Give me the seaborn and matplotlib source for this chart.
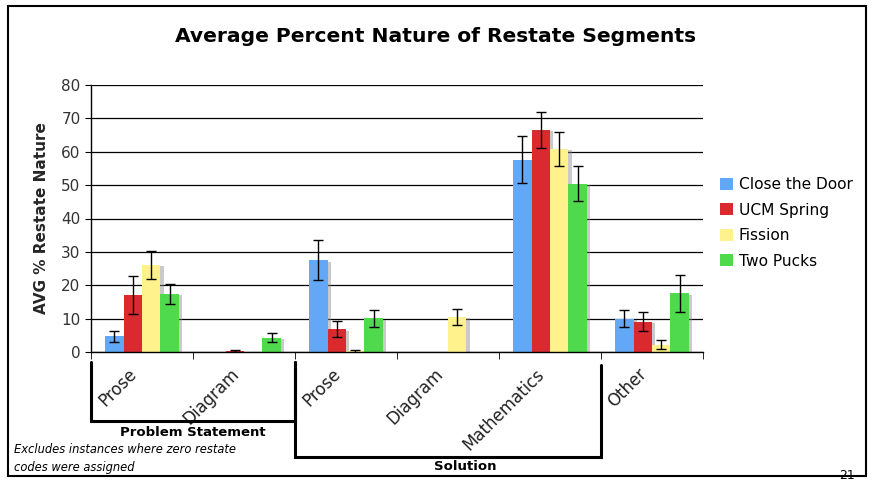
import pandas as pd
import matplotlib.pyplot as plt
import matplotlib.patheffects as pe
import matplotlib.transforms as mtransforms
from matplotlib.patches import Rectangle
import seaborn as sns

# Chart values
categories = ['Prose', 'Diagram', 'Prose ', 'Diagram ', 'Mathematics', 'Other']
tick_labels = ['Prose', 'Diagram', 'Prose', 'Diagram', 'Mathematics', 'Other']
series = ['Close the Door', 'UCM Spring', 'Fission', 'Two Pucks']

close_door = [4.7, 0.0, 27.5, 0.0, 57.6, 10.0]
ucm_spring = [17.2, 0.2, 6.8, 0.0, 66.5, 9.1]
fission = [26.1, 0.0, 0.2, 10.5, 60.8, 2.2]
two_pucks = [17.5, 4.3, 10.1, 0.0, 50.4, 17.6]

close_door_err = [1.6, 0.0, 6.0, 0.0, 7.0, 2.6]
ucm_spring_err = [5.7, 0.3, 2.4, 0.0, 5.4, 2.9]
fission_err = [4.3, 0.0, 0.4, 2.4, 5.0, 1.3]
two_pucks_err = [3.0, 1.3, 2.6, 0.0, 5.3, 5.5]

colors = ['#62a8f7', '#da2a2e', '#fff28c', '#4fd94c']

values = [close_door, ucm_spring, fission, two_pucks]
errors = [close_door_err, ucm_spring_err, fission_err, two_pucks_err]

df = pd.DataFrame({
    'segment': categories * len(series),
    'set': [s for s in series for _ in categories],
    'value': [v for vals in values for v in vals],
})

sns.set_style('white')
plt.rcParams['font.family'] = ['DejaVu Sans']
plt.rcParams['text.color'] = 'black'

fig = plt.figure(figsize=(8.72, 4.84), dpi=100)
ax = fig.add_axes([91 / 872, 1 - 352 / 484, 612 / 872, 267 / 484])

sns.barplot(data=df, x='segment', y='value', hue='set', order=categories,
            hue_order=series, palette=colors, width=0.72, errorbar=None,
            saturation=1, linewidth=0, ax=ax, legend=True)

# drop shadows and error bars
shadow = [pe.SimplePatchShadow(offset=(2.5, -1), shadow_rgbFace='#8a8a8a', alpha=0.45),
          pe.Normal()]
for cont, errs in zip(ax.containers, errors):
    for bar, e in zip(cont, errs):
        bar.set_path_effects(shadow)
        if e > 0:
            ax.errorbar(bar.get_x() + bar.get_width() / 2, bar.get_height(), yerr=e,
                        fmt='none', ecolor='black', elinewidth=1, capsize=3.6,
                        capthick=1, zorder=5)

ax.set_ylim(0, 80)
ax.set_xlim(-0.5, len(categories) - 0.5)
ax.set_yticks(range(0, 81, 10))
ax.yaxis.grid(True, color='black', lw=0.9)
ax.set_axisbelow(True)
for side in ['top', 'right']:
    ax.spines[side].set_visible(False)
for side in ['left', 'bottom']:
    ax.spines[side].set_color('black')
    ax.spines[side].set_linewidth(1)

ax.tick_params(axis='y', length=4, color='black', labelsize=11, labelcolor='#333333', left=True)
ax.set_xticks(range(len(categories)))
ax.set_xticklabels(tick_labels, rotation=45, ha='right', va='center',
                   rotation_mode='anchor', fontsize=12, color='#222222')
ax.tick_params(axis='x', length=0, pad=14)
shift = mtransforms.ScaledTranslation(-8 / 100, 0, fig.dpi_scale_trans)
for lbl in ax.get_xticklabels():
    lbl.set_transform(lbl.get_transform() + shift)
ax.set_xticks([i - 0.5 for i in range(len(categories) + 1)], minor=True)
ax.tick_params(axis='x', which='minor', length=5, color='black', bottom=True)

ax.set_xlabel('')
ax.set_ylabel('AVG % Restate Nature', fontsize=11, fontweight='bold', labelpad=9)
fig.text(0.5, 1 - 37 / 484, 'Average Percent Nature of Restate Segments',
         ha='center', va='center', fontsize=14.6, fontweight='bold')

# group brackets below the axis
tr = ax.get_xaxis_transform()
ax.plot([-0.5, -0.5, 1.5, 1.5], [-0.037, -0.258, -0.258, -0.037], color='black',
        lw=2.2, transform=tr, clip_on=False, solid_joinstyle='miter')
ax.plot([1.5, 1.5, 4.5, 4.5], [-0.037, -0.393, -0.393, -0.05], color='black',
        lw=2.2, transform=tr, clip_on=False, solid_joinstyle='miter')
ax.text(0.5, -0.303, 'Problem Statement', transform=tr, ha='center', va='center',
        fontsize=9.5, fontweight='bold')
ax.text(3.17, -0.427, 'Solution', transform=tr, ha='center', va='center',
        fontsize=9.5, fontweight='bold')

fig.text(14 / 872, 1 - 443 / 484, 'Excludes instances where zero restate\ncodes were assigned',
         ha='left', va='top', fontsize=8.3, style='italic', linespacing=1.45)

leg = ax.legend(loc='upper left', bbox_to_anchor=(714 / 872, 1 - 171 / 484),
                bbox_transform=fig.transFigure, frameon=False, fontsize=11.1,
                handlelength=0.8, handleheight=0.8, handletextpad=0.4,
                labelspacing=0.68, borderaxespad=0)

fig.add_artist(Rectangle((8 / 872, 1 - 476 / 484), 858 / 872, 470 / 484,
                         transform=fig.transFigure, fill=False, lw=1.5, ec='black'))
fig.text(0.962, 1 - 482 / 484, '21', ha='left', va='bottom', fontsize=9)

plt.savefig('out.png', dpi=100)
